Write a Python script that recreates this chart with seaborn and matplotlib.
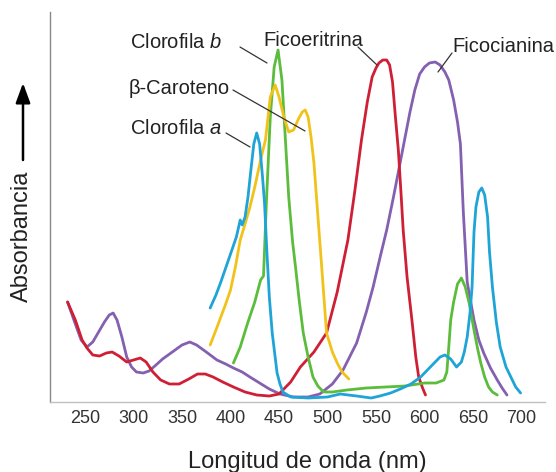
import matplotlib
matplotlib.use("Agg")
import matplotlib.pyplot as plt
import seaborn as sns
import pandas as pd

# ---- data ----
fe_nm = [232,240,247,252,258,265,272,278,285,293,300,307,313,320,328,337,347,357,366,374,382,392,403,415,427,440,450,462,472,486,499,510,521,528,535,541,546,550,553,557,561,564,567,570,573,576,578,582,587,591,594,598,601]
fe_v = [100,82,62,54,47,46,49,50,46,40,42,44,40,30,22,18,18,23,28,28,25,20,15,10,7,6,8,20,35,50,69,110,162,210,262,300,325,334,339,342,342,337,320,285,252,205,172,125,82,45,25,14,7]

fc_nm = [232,240,246,252,258,264,270,275,279,283,288,293,298,303,310,316,322,330,340,350,358,365,375,386,395,403,412,420,430,440,451,465,480,492,505,516,530,540,547,555,561,568,575,585,590,595,600,605,611,616,621,625,630,634,637,640,644,648,651,656,661,668,675,680,685]
fc_v = [100,78,62,55,60,70,80,87,89,82,65,45,35,30,29,31,36,43,50,57,60,57,50,42,38,34,30,25,19,13,8,5,5,8,18,32,59,90,115,148,172,205,240,290,312,328,335,339,340,337,330,322,302,280,258,190,120,98,82,62,49,34,22,14,7]

ca_nm = [379,385,390,395,400,406,410,412,415,418,421,424,427,430,433,435,437.5,440,443,446,448,451,454,462,480,500,513,530,545,554,565,575,586,596,608,616,621,627,633,638,641,644,647,649,651,653,656,659,662,665,667,670,674,678,684,689,694,699]
ca_v = [94,107,120,134,148,165,182,177,185,205,232,258,269,258,225,200,150,105,69,45,29,18,10,5,4,5,8,6,4,6,9,13,18,25,37,45,47,43,35,40,50,65,90,115,170,195,210,214,207,185,150,115,80,55,35,25,15,9]

cb_nm = [403,410,418,425,431,434,437,441,445,449,453,456,460,464,467,471,475,480,485,490,496,505,520,540,560,580,600,612,620,623,625,627,630,634,638,642,646,651,655,658,662,666,670,675]
cb_v = [39,55,80,100,122,126,200,285,335,352,322,272,205,160,135,100,69,45,25,16,10,10,12,14,15,16,19,19,22,30,55,82,100,118,124,115,99,72,52,39,25,15,10,7]

bc_nm = [379,385,390,395,400,405,410,415,420,425,431,436,441,446,450,455,460,465,470,474,477,480,483,486,489,494,499,505,510,515,522]
bc_v = [57,72,85,98,112,135,162,178,195,215,242,262,305,317,305,285,270,272,283,290,292,285,265,239,200,135,69,50,39,30,23]

series = ["Ficoeritrina", "Ficocianina", "Clorofila a", "Clorofila b", "β-Caroteno"]
xs = [fe_nm, fc_nm, ca_nm, cb_nm, bc_nm]
ys = [fe_v, fc_v, ca_v, cb_v, bc_v]
colors = ["#cf1f35", "#8460b0", "#1ea4d6", "#5cbc3c", "#f1c31a"]
xticks = [250, 300, 350, 400, 450, 500, 550, 600, 650, 700]

df = pd.concat([pd.DataFrame({"nm": x, "abs": y, "pigmento": s})
                for s, x, y in zip(series, xs, ys)], ignore_index=True)

sns.set_style("white")
plt.rcParams["font.family"] = ["Liberation Sans", "DejaVu Sans"]
plt.rcParams["mathtext.fontset"] = "custom"
plt.rcParams["mathtext.rm"] = "Liberation Sans"
plt.rcParams["mathtext.it"] = "Liberation Sans:italic"

fig = plt.figure(figsize=(5.56, 4.72), dpi=100)
ax = fig.add_axes([50/556, 1-402/472, 495/556, 390/472])

draw_order = ["Ficocianina", "Ficoeritrina", "Clorofila b", "β-Caroteno", "Clorofila a"]
for s in draw_order:
    i = series.index(s)
    sns.lineplot(data=df[df.pigmento == s], x="nm", y="abs", sort=False, estimator=None,
                 color=colors[i], lw=2.0, ax=ax, legend=False)

ax.set_xlim(213.9, 724.2)
ax.set_ylim(0, 390)
ax.set_xticks(xticks)
ax.set_xticklabels([str(t) for t in xticks])
ax.set_yticks([])
ax.tick_params(axis="x", length=0, pad=6, labelsize=13, colors="#333333")
for sp in ["top", "right"]:
    ax.spines[sp].set_visible(False)
ax.spines["left"].set_color("#888888")
ax.spines["left"].set_linewidth(1.0)
ax.spines["bottom"].set_color("#c0c0c0")
ax.spines["bottom"].set_linewidth(1.0)

ax.set_xlabel("Longitud de onda (nm)", fontsize=17, color="#222222")
ax.xaxis.set_label_coords((307-50)/495, (402-462)/390)
ax.xaxis.label.set_verticalalignment("center")
ax.set_ylabel("Absorbancia", fontsize=17, color="#222222")
ax.yaxis.set_label_coords((22-50)/495, (402-236)/390)
ax.yaxis.label.set_verticalalignment("center")
ax.yaxis.label.set_horizontalalignment("center")

H = 472
# arrow beside y label
ax.annotate("", xy=(23, H-83), xytext=(23, H-160), xycoords="figure pixels",
            textcoords="figure pixels",
            arrowprops=dict(arrowstyle="-|>,head_length=0.6,head_width=0.22", lw=1.8,
                            color="black", mutation_scale=20, shrinkA=0, shrinkB=0))

# labels with leader lines (image pixel positions)
labels = [
    ("Clorofila $\\it{b}$", 130, 43, (240, 47), (267, 63)),
    ("β-Caroteno", 129, 88, (233, 90), (305, 131)),
    ("Clorofila $\\it{a}$", 130, 128, (226, 133), (250, 147)),
    ("Ficoeritrina", 263, 41, (358, 47), (377, 65)),
    ("Ficocianina", 452, 46, (452, 53), (438, 72)),
]
for txt, tx, ty, p0, p1 in labels:
    fig.text(tx/556, 1-ty/H, txt, fontsize=14.5, ha="left", va="center", color="#222222")
    ax.annotate("", xy=(p1[0], H-p1[1]), xytext=(p0[0], H-p0[1]),
                xycoords="figure pixels", textcoords="figure pixels",
                arrowprops=dict(arrowstyle="-", lw=0.9, color="#333333", shrinkA=0, shrinkB=0))

fig.savefig("out.png", dpi=100)
